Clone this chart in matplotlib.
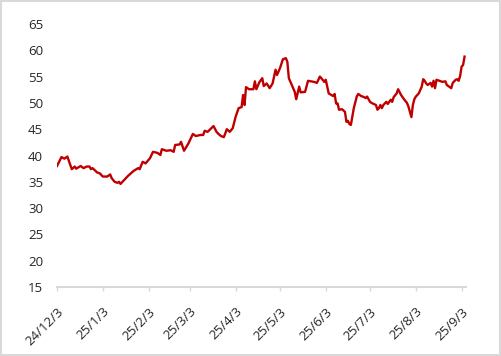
import matplotlib
matplotlib.use("Agg")
import matplotlib.pyplot as plt
import matplotlib.transforms as mtransforms
import pandas as pd
from matplotlib.patches import Rectangle

# --- DATA ---
dates = [
    "2024-12-03", "2024-12-06", "2024-12-08", "2024-12-10", "2024-12-11", "2024-12-13",
    "2024-12-15", "2024-12-16", "2024-12-19", "2024-12-21", "2024-12-23", "2024-12-25",
    "2024-12-26", "2024-12-27", "2024-12-29", "2024-12-30", "2025-01-01", "2025-01-03",
    "2025-01-06", "2025-01-08", "2025-01-09", "2025-01-11", "2025-01-13", "2025-01-14",
    "2025-01-15", "2025-01-17", "2025-01-20", "2025-01-24", "2025-01-27", "2025-01-28",
    "2025-01-30", "2025-02-01", "2025-02-04", "2025-02-06", "2025-02-09", "2025-02-11",
    "2025-02-12", "2025-02-15", "2025-02-18", "2025-02-20", "2025-02-21", "2025-02-24",
    "2025-02-25", "2025-02-27", "2025-03-02", "2025-03-05", "2025-03-07", "2025-03-10",
    "2025-03-12", "2025-03-13", "2025-03-15", "2025-03-19", "2025-03-21", "2025-03-22",
    "2025-03-24", "2025-03-26", "2025-03-28", "2025-03-30", "2025-04-01", "2025-04-03",
    "2025-04-05", "2025-04-07", "2025-04-08", "2025-04-09", "2025-04-10", "2025-04-12",
    "2025-04-15", "2025-04-16", "2025-04-17", "2025-04-19", "2025-04-21", "2025-04-22",
    "2025-04-24", "2025-04-26", "2025-04-28", "2025-04-30", "2025-05-01", "2025-05-03",
    "2025-05-05", "2025-05-07", "2025-05-08", "2025-05-09", "2025-05-11", "2025-05-13",
    "2025-05-14", "2025-05-16", "2025-05-17", "2025-05-20", "2025-05-22", "2025-05-26",
    "2025-05-28", "2025-05-30", "2025-05-31", "2025-06-02", "2025-06-03", "2025-06-04",
    "2025-06-05", "2025-06-08", "2025-06-09", "2025-06-10", "2025-06-11", "2025-06-12",
    "2025-06-14", "2025-06-16", "2025-06-17", "2025-06-18", "2025-06-19", "2025-06-20",
    "2025-06-22", "2025-06-24", "2025-06-25", "2025-06-27", "2025-06-29", "2025-06-30",
    "2025-07-01", "2025-07-03", "2025-07-04", "2025-07-07", "2025-07-08", "2025-07-09",
    "2025-07-10", "2025-07-11", "2025-07-12", "2025-07-14", "2025-07-15", "2025-07-17",
    "2025-07-18", "2025-07-19", "2025-07-21", "2025-07-22", "2025-07-24", "2025-07-26",
    "2025-07-28", "2025-07-29", "2025-07-30", "2025-07-31", "2025-08-01", "2025-08-02",
    "2025-08-03", "2025-08-05", "2025-08-07", "2025-08-08", "2025-08-09", "2025-08-10",
    "2025-08-11", "2025-08-13", "2025-08-14", "2025-08-15", "2025-08-16", "2025-08-17",
    "2025-08-19", "2025-08-21", "2025-08-23", "2025-08-24", "2025-08-25", "2025-08-27",
    "2025-08-28", "2025-08-30", "2025-08-31", "2025-09-01", "2025-09-02", "2025-09-03",
    "2025-09-04", "2025-09-05",
]
values = [
    38.0, 39.7, 39.4, 39.8, 39.0, 37.4, 37.9, 37.5, 38.0, 37.6, 37.9, 37.9,
    37.4, 37.6, 37.1, 36.8, 36.6, 36.0, 36.0, 36.4, 35.7, 35.0, 34.8, 35.0,
    34.6, 35.2, 36.1, 37.1, 37.6, 37.4, 38.8, 38.5, 39.5, 40.7, 40.5, 40.1,
    41.2, 40.9, 41.0, 40.7, 42.0, 42.1, 42.6, 40.9, 42.3, 44.1, 43.7, 43.9,
    43.9, 44.7, 44.5, 45.6, 44.5, 44.2, 43.7, 43.5, 45.0, 44.5, 45.2, 47.4,
    49.0, 49.2, 51.5, 49.6, 53.0, 52.6, 52.6, 54.1, 52.6, 53.9, 54.7, 53.2,
    53.7, 52.8, 53.7, 56.3, 55.3, 56.6, 58.3, 58.5, 57.8, 54.7, 53.4, 52.1,
    50.7, 53.1, 52.0, 52.1, 54.2, 54.0, 53.8, 55.0, 54.7, 54.0, 54.4, 53.1,
    51.8, 51.3, 51.7, 49.9, 49.9, 48.7, 48.8, 48.3, 46.4, 46.6, 46.0, 45.8,
    49.0, 51.2, 51.7, 51.3, 51.1, 50.9, 51.2, 50.2, 50.0, 49.6, 48.7, 49.0,
    49.6, 49.0, 49.6, 50.2, 49.8, 50.6, 50.2, 51.1, 51.8, 52.6, 51.5, 50.7,
    50.0, 49.3, 48.3, 47.3, 49.6, 50.7, 51.2, 51.8, 53.1, 54.5, 54.2, 53.7,
    53.4, 53.8, 53.1, 54.2, 52.8, 54.4, 54.2, 54.0, 54.1, 53.4, 53.2, 52.8,
    53.8, 54.4, 54.5, 54.2, 55.1, 56.9, 57.2, 58.8,
]
tick_dates = ["2024-12-03", "2025-01-03", "2025-02-03", "2025-03-03", "2025-04-03",
              "2025-05-03", "2025-06-03", "2025-07-03", "2025-08-03", "2025-09-03"]
tick_labels = ["24/12/3", "25/1/3", "25/2/3", "25/3/3", "25/4/3",
               "25/5/3", "25/6/3", "25/7/3", "25/8/3", "25/9/3"]
y_ticks = [15, 20, 25, 30, 35, 40, 45, 50, 55, 60, 65]

plt.rcParams['font.family'] = ['Open Sans', 'DejaVu Sans']

fig = plt.figure(figsize=(5.01, 3.56), dpi=100)
ax = fig.add_axes([0.1138, 0.1938, 0.8164, 0.7388])

ax.plot(pd.to_datetime(dates), values, color='#C00000', linewidth=1.7)

ax.set_ylim(15, 65)
ax.set_yticks(y_ticks)
ax.set_xlim(pd.Timestamp("2024-12-03"), pd.Timestamp("2025-09-06"))
ax.set_xticks(pd.to_datetime(tick_dates))
ax.set_xticklabels(tick_labels, rotation=45, ha='right', va='top', rotation_mode='anchor')

# nudge the slanted labels a little to the right, like the original
shift = mtransforms.ScaledTranslation(5 / 100, 0, fig.dpi_scale_trans)
for lab in ax.get_xticklabels():
    lab.set_transform(lab.get_transform() + shift)

for s in ['top', 'right', 'left']:
    ax.spines[s].set_visible(False)
ax.spines['bottom'].set_color('#d9d9d9')
ax.spines['bottom'].set_linewidth(1.5)
ax.tick_params(axis='y', length=0, pad=10, labelsize=9.5, labelcolor='#262626')
ax.tick_params(axis='x', length=3, width=1, color='#d9d9d9', pad=10, labelsize=9.5, labelcolor='#262626')

# light grey frame around the chart
fig.patches.append(Rectangle((0.002, 0.003), 0.996, 0.994, transform=fig.transFigure,
                             fill=False, edgecolor='#d9d9d9', linewidth=1.5))

fig.savefig('out.png', dpi=100)
